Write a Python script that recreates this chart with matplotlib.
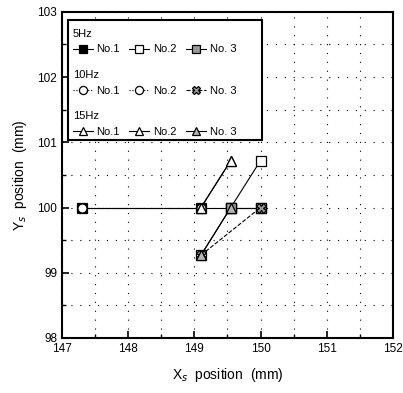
import numpy as np
import matplotlib
matplotlib.use("Agg")
import matplotlib.pyplot as plt
from matplotlib.patches import Rectangle
from matplotlib.legend import Legend

plt.rcParams['font.family'] = ['Liberation Sans', 'DejaVu Sans']

# measured positions, one set per drive frequency and specimen
x_5_1 = [147.3, 149.1, 149.55, 150.0]
y_5_1 = [100.0, 100.0, 100.0, 100.0]
x_5_2 = [149.1, 149.55, 150.0]
y_5_2 = [99.27, 100.0, 100.72]
x_5_3 = [149.55, 150.0]
y_5_3 = [100.0, 100.0]

x_10_1 = [147.3, 149.1]
y_10_1 = [100.0, 100.0]
x_10_2 = [147.3, 149.1]
y_10_2 = [100.0, 100.0]
x_10_3 = [149.1, 150.0]
y_10_3 = [99.27, 100.0]

x_15_1 = [149.1, 149.55]
y_15_1 = [100.0, 100.72]
x_15_2 = [149.1, 149.55]
y_15_2 = [100.0, 100.72]
x_15_3 = [149.1, 149.55]
y_15_3 = [99.27, 100.0]

fig = plt.figure(figsize=(4.03, 3.93), dpi=100)
ax = fig.add_axes([0.154, 0.14, 0.821, 0.83])

kw = dict(color='k', lw=0.8, ms=6.5, mew=0.9)
h51, = ax.plot(x_5_1, y_5_1, '-', marker='s', mfc='k', label='No.1', **kw)
h52, = ax.plot(x_5_2, y_5_2, '-', marker='s', mfc='white', label='No.2', **kw)
h53, = ax.plot(x_5_3, y_5_3, '-', marker='s', mfc='0.6', label='No. 3', **kw)
h101, = ax.plot(x_10_1, y_10_1, ':', marker='o', mfc='white', label='No.1', **kw)
h102, = ax.plot(x_10_2, y_10_2, ':', marker='o', mfc='white', label='No.2', **kw)
h103, = ax.plot(x_10_3, y_10_3, '--', marker='X', mfc='0.6', label='No. 3', **kw)
h151, = ax.plot(x_15_1, y_15_1, '-', marker='^', mfc='white', label='No.1', **kw)
h152, = ax.plot(x_15_2, y_15_2, '-', marker='^', mfc='white', label='No.2', **kw)
h153, = ax.plot(x_15_3, y_15_3, '-', marker='^', mfc='0.7', label='No. 3', **kw)

ax.set_xlim(147, 152)
ax.set_ylim(98, 103)
ax.set_xticks(np.arange(147, 153, 1))
ax.set_yticks(np.arange(98, 104, 1))
ax.set_xticks(np.arange(147, 152.01, 0.5), minor=True)
ax.set_yticks(np.arange(98, 103.01, 0.5), minor=True)
ax.grid(True, which='both', ls=(0, (1, 7)), color='k', lw=0.8)
ax.tick_params(which='both', direction='in', top=False, right=False, labelsize=8.5)
ax.tick_params(which='major', length=5, width=1.2)
ax.tick_params(which='minor', length=3, width=1)
for s in ax.spines.values():
    s.set_linewidth(1.5)

ax.set_xlabel('X$_s$  position  (mm)', fontsize=10, labelpad=8)
ax.set_ylabel('Y$_s$  position  (mm)', fontsize=10, labelpad=6)

ax.add_patch(Rectangle((0.018, 0.607), 0.585, 0.368, transform=ax.transAxes,
                       fill=True, fc='white', ec='k', lw=1.5, zorder=5))
groups = [('5Hz', [h51, h52, h53], 0.975),
          ('10Hz', [h101, h102, h103], 0.848),
          ('15Hz', [h151, h152, h153], 0.722)]
for title, hs, top in groups:
    leg = Legend(ax, hs, [h.get_label() for h in hs], ncol=3, loc='upper left',
                 bbox_to_anchor=(0.005, top), frameon=False, title=title,
                 alignment='left', fontsize=8, title_fontsize=8, handlelength=1.8,
                 handletextpad=0.3, columnspacing=0.9, borderpad=0.3, markerscale=0.9)
    leg.set_zorder(6)
    ax.add_artist(leg)

fig.savefig('out.png', dpi=100)
